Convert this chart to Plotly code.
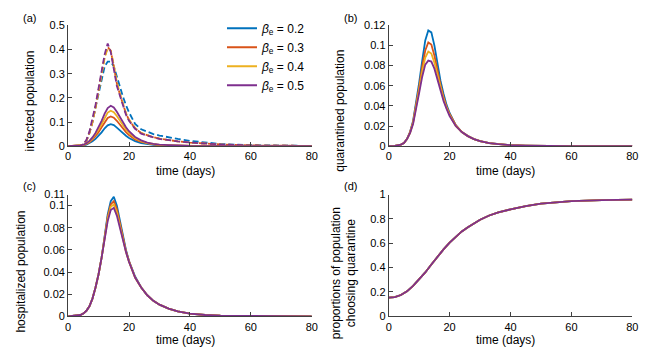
import plotly.graph_objects as go

# time points (days)
t = [0, 2, 4, 5, 6, 7, 8, 9, 10, 11, 12, 13, 14, 15, 16, 17, 18, 19, 20,
     22, 24, 26, 28, 30, 33, 36, 40, 45, 50, 60, 70, 80]

beta_labels = ["0.2", "0.3", "0.4", "0.5"]
colors = ["#0072BD", "#D95319", "#EDB120", "#7E2F8E"]

# (a) infected population, solid lines
infected_02 = [0, 0.0005, 0.002, 0.003, 0.006, 0.012, 0.02, 0.03, 0.043, 0.057, 0.074, 0.086, 0.091, 0.087, 0.077, 0.065,
               0.053, 0.043, 0.034, 0.021, 0.013, 0.008, 0.005, 0.003, 0.002, 0.001, 0.0005, 0, 0, 0, 0, 0]
infected_03 = [0, 0.001, 0.002, 0.004, 0.009, 0.016, 0.027, 0.041, 0.058, 0.078, 0.1, 0.117, 0.123, 0.118, 0.105, 0.089,
               0.072, 0.058, 0.046, 0.028, 0.018, 0.011, 0.007, 0.004, 0.003, 0.0015, 0.001, 0, 0, 0, 0, 0]
infected_04 = [0, 0.001, 0.003, 0.005, 0.011, 0.019, 0.032, 0.048, 0.069, 0.092, 0.119, 0.139, 0.147, 0.141, 0.125, 0.106,
               0.086, 0.069, 0.055, 0.033, 0.021, 0.013, 0.009, 0.005, 0.0035, 0.002, 0.001, 0, 0, 0, 0, 0]
infected_05 = [0, 0.001, 0.003, 0.006, 0.012, 0.022, 0.036, 0.055, 0.078, 0.105, 0.135, 0.158, 0.167, 0.16, 0.142, 0.12,
               0.098, 0.078, 0.062, 0.038, 0.024, 0.015, 0.01, 0.006, 0.004, 0.002, 0.001, 0.0005, 0, 0, 0, 0]

# (a) dashed lines
infected_d_02 = [0, 0, 0.002, 0.007, 0.022, 0.055, 0.1, 0.16, 0.22, 0.28, 0.33, 0.35, 0.35, 0.33, 0.285, 0.245,
                 0.205, 0.17, 0.14, 0.092, 0.07, 0.06, 0.05, 0.044, 0.036, 0.03, 0.022, 0.014, 0.009, 0.004, 0.002, 0.001]
infected_d_03 = [0, 0, 0.002, 0.007, 0.022, 0.055, 0.1, 0.16, 0.23, 0.3, 0.37, 0.41, 0.395, 0.33, 0.26, 0.215,
                 0.175, 0.135, 0.108, 0.074, 0.054, 0.044, 0.037, 0.031, 0.025, 0.02, 0.015, 0.01, 0.007, 0.003, 0.002, 0.001]
infected_d_04 = [0, 0, 0.002, 0.007, 0.022, 0.055, 0.1, 0.16, 0.23, 0.3, 0.365, 0.405, 0.395, 0.335, 0.265, 0.218,
                 0.177, 0.137, 0.11, 0.075, 0.055, 0.045, 0.037, 0.031, 0.025, 0.02, 0.015, 0.01, 0.007, 0.003, 0.002, 0.001]
infected_d_05 = [0, 0, 0.002, 0.008, 0.025, 0.06, 0.11, 0.17, 0.24, 0.31, 0.38, 0.425, 0.39, 0.32, 0.25, 0.21,
                 0.17, 0.13, 0.105, 0.072, 0.052, 0.043, 0.036, 0.03, 0.024, 0.02, 0.015, 0.01, 0.007, 0.003, 0.002, 0.001]

# (b) quarantined population
quar_02 = [0, 0.0003, 0.0015, 0.003, 0.007, 0.014, 0.025, 0.042, 0.063, 0.085, 0.105, 0.115, 0.113, 0.1, 0.082, 0.065,
           0.052, 0.041, 0.033, 0.021, 0.014, 0.01, 0.007, 0.005, 0.003, 0.002, 0.001, 0.0006, 0.0003, 0.0001, 0, 0]
quar_03 = [0, 0.0003, 0.0015, 0.003, 0.007, 0.014, 0.024, 0.04, 0.059, 0.079, 0.095, 0.103, 0.101, 0.09, 0.075, 0.061,
           0.049, 0.039, 0.032, 0.021, 0.014, 0.01, 0.007, 0.005, 0.003, 0.002, 0.001, 0.0006, 0.0003, 0.0001, 0, 0]
quar_04 = [0, 0.0003, 0.0015, 0.003, 0.007, 0.013, 0.023, 0.038, 0.056, 0.074, 0.088, 0.094, 0.092, 0.083, 0.07, 0.058,
           0.047, 0.038, 0.031, 0.02, 0.014, 0.01, 0.007, 0.005, 0.003, 0.002, 0.001, 0.0006, 0.0003, 0.0001, 0, 0]
quar_05 = [0, 0.0003, 0.0015, 0.003, 0.007, 0.013, 0.022, 0.036, 0.053, 0.069, 0.081, 0.085, 0.084, 0.077, 0.066, 0.055,
           0.045, 0.037, 0.03, 0.02, 0.014, 0.01, 0.007, 0.005, 0.003, 0.002, 0.001, 0.0006, 0.0003, 0.0001, 0, 0]

# (c) hospitalized population
hosp_02 = [0, 0.0003, 0.0012, 0.0025, 0.005, 0.009, 0.016, 0.026, 0.038, 0.053, 0.071, 0.092, 0.104, 0.108, 0.1, 0.086,
           0.072, 0.06, 0.05, 0.036, 0.026, 0.019, 0.014, 0.0105, 0.007, 0.0045, 0.0025, 0.0012, 0.0006, 0.0002, 0.0001, 0]
hosp_03 = [0, 0.0003, 0.0012, 0.0025, 0.005, 0.009, 0.016, 0.026, 0.038, 0.053, 0.07, 0.09, 0.101, 0.104, 0.097, 0.084,
           0.07, 0.059, 0.05, 0.035, 0.026, 0.019, 0.014, 0.0105, 0.007, 0.0045, 0.0025, 0.0012, 0.0006, 0.0002, 0.0001, 0]
hosp_04 = [0, 0.0003, 0.0012, 0.0025, 0.005, 0.009, 0.016, 0.026, 0.038, 0.053, 0.07, 0.088, 0.099, 0.101, 0.094, 0.082,
           0.069, 0.058, 0.049, 0.035, 0.026, 0.019, 0.014, 0.0105, 0.007, 0.0045, 0.0025, 0.0012, 0.0006, 0.0002, 0.0001, 0]
hosp_05 = [0, 0.0003, 0.0012, 0.0025, 0.005, 0.009, 0.016, 0.026, 0.038, 0.053, 0.07, 0.086, 0.096, 0.098, 0.091, 0.08,
           0.068, 0.058, 0.049, 0.035, 0.026, 0.019, 0.014, 0.0105, 0.007, 0.0045, 0.0025, 0.0012, 0.0006, 0.0002, 0.0001, 0]

# (d) proportion of population choosing quarantine (curves coincide)
t_d = [0, 2, 4, 6, 8, 10, 12, 14, 16, 18, 20, 22, 24, 26, 28, 30, 33, 36, 40, 45, 50, 60, 70, 80]
prop_quar = [0.153, 0.158, 0.175, 0.205, 0.25, 0.303, 0.36, 0.425, 0.49, 0.55, 0.605, 0.655, 0.697, 0.732, 0.765,
             0.793, 0.828, 0.853, 0.878, 0.905, 0.925, 0.945, 0.954, 0.958]

infected = [infected_02, infected_03, infected_04, infected_05]
infected_d = [infected_d_02, infected_d_03, infected_d_04, infected_d_05]
quar = [quar_02, quar_03, quar_04, quar_05]
hosp = [hosp_02, hosp_03, hosp_04, hosp_05]

fig = go.Figure()

for i in range(4):
    fig.add_trace(go.Scatter(x=t, y=infected_d[i], mode="lines", showlegend=False,
                             line=dict(color=colors[i], width=1.8, dash="6px,3px"), xaxis="x", yaxis="y"))
for i in range(4):
    fig.add_trace(go.Scatter(x=t, y=infected[i], mode="lines",
                             name=f"<i>β</i><sub>e</sub> = {beta_labels[i]}",
                             line=dict(color=colors[i], width=1.8), xaxis="x", yaxis="y"))
    fig.add_trace(go.Scatter(x=t, y=quar[i], mode="lines", showlegend=False,
                             line=dict(color=colors[i], width=1.8), xaxis="x2", yaxis="y2"))
    fig.add_trace(go.Scatter(x=t, y=hosp[i], mode="lines", showlegend=False,
                             line=dict(color=colors[i], width=1.8), xaxis="x3", yaxis="y3"))
    fig.add_trace(go.Scatter(x=t_d, y=prop_quar, mode="lines", showlegend=False,
                             line=dict(color=colors[i], width=1.8), xaxis="x4", yaxis="y4"))

W, H = 665, 361
left_dom = [66 / W, 313 / W]
right_dom = [391 / W, 638 / W]
top_dom = [1 - 145 / H, 1 - 20 / H]
bot_dom = [1 - 321 / H, 1 - 195 / H]

axis_style = dict(showline=True, linecolor="#404040", linewidth=1, ticks="inside", ticklen=4,
                  tickcolor="#404040", showgrid=False, zeroline=False,
                  tickfont=dict(size=11, color="black"), mirror=False)
x_ticks = dict(axis_style, range=[0, 80], tickvals=[0, 20, 40, 60, 80])

fig.update_layout(
    width=W, height=H,
    margin=dict(l=0, r=0, t=0, b=0),
    paper_bgcolor="white", plot_bgcolor="white",
    font=dict(family="Liberation Sans, Arial, sans-serif", color="black"),
    xaxis=dict(x_ticks, domain=left_dom, anchor="y"),
    yaxis=dict(axis_style, domain=top_dom, anchor="x", range=[0, 0.5],
               tickvals=[0, 0.1, 0.2, 0.3, 0.4, 0.5]),
    xaxis2=dict(x_ticks, domain=right_dom, anchor="y2"),
    yaxis2=dict(axis_style, domain=top_dom, anchor="x2", range=[0, 0.12],
                tickvals=[0, 0.02, 0.04, 0.06, 0.08, 0.1, 0.12]),
    xaxis3=dict(x_ticks, domain=left_dom, anchor="y3"),
    yaxis3=dict(axis_style, domain=bot_dom, anchor="x3", range=[0, 0.11],
                tickvals=[0, 0.02, 0.04, 0.06, 0.08, 0.1, 0.11]),
    xaxis4=dict(x_ticks, domain=right_dom, anchor="y4"),
    yaxis4=dict(axis_style, domain=bot_dom, anchor="x4", range=[0, 1],
                tickvals=[0, 0.2, 0.4, 0.6, 0.8, 1]),
    legend=dict(x=222 / W, y=1 - 8 / H, xanchor="left", yanchor="top",
                bgcolor="rgba(0,0,0,0)", font=dict(size=12, color="black"),
                tracegroupgap=0, itemwidth=30),
)

# panel labels and axis titles (placed like the original figure)
labels = [
    ("(a)", 27, 12, 0, 11), ("(b)", 352, 12, 0, 11), ("(c)", 27, 186, 0, 11), ("(d)", 352, 186, 0, 11),
    ("time (days)", 184.5, 171, 0, 12), ("time (days)", 509.5, 171, 0, 12),
    ("time (days)", 184.5, 346, 0, 12), ("time (days)", 509.5, 346, 0, 12),
    ("infected population", 27, 98, -90, 12),
    ("quarantined population", 342, 108, -90, 12),
    ("hospitalized population", 18, 275, -90, 12),
    ("proportions of population<br>choosing quarantine", 345, 276, -90, 12),
]
for text, px, py, ang, size in labels:
    fig.add_annotation(text=text, xref="paper", yref="paper", x=px / W, y=1 - py / H,
                       showarrow=False, textangle=ang, font=dict(size=size, color="black"),
                       xanchor="center", yanchor="middle")

fig.write_html("out.html", config={"displayModeBar": False},
               post_script="document.body.style.margin='0';")
